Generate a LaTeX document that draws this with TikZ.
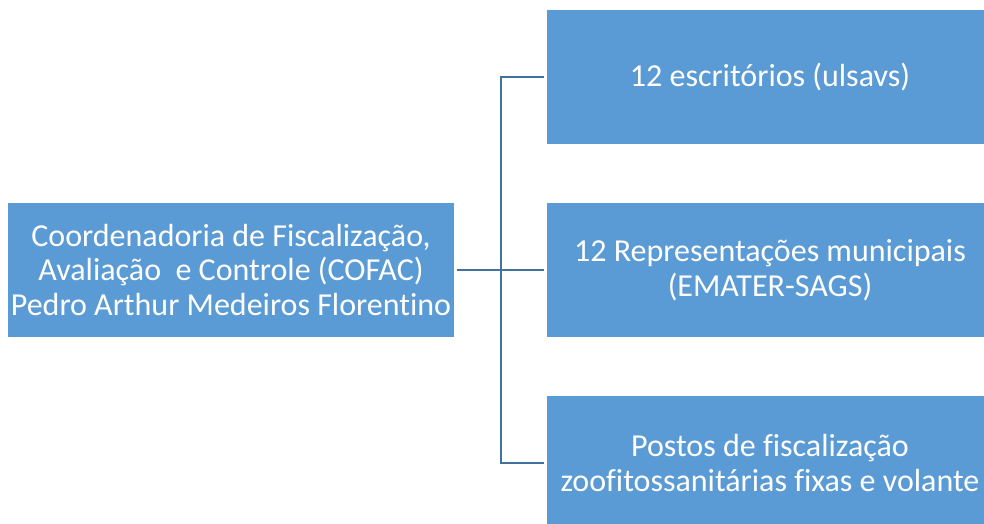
\documentclass[tikz,border=0pt]{standalone}
\usepackage{fontspec}
\setmainfont{Carlito}[Ligatures={NoCommon}]
\definecolor{boxfill}{HTML}{5B9BD5}
\definecolor{linecol}{HTML}{41719C}
\begin{document}
\begin{tikzpicture}[x=1pt,y=-1pt,
  orgbox/.style={rectangle, fill=boxfill, draw=none, minimum width=446pt, minimum height=134pt,
    inner sep=0pt, align=center, text=white, font=\fontsize{32}{34.5}\selectfont},
  conn/.style={draw=linecol, line width=2.6pt}]
\useasboundingbox (0,0) rectangle (984,524);
\clip (0,0) rectangle (984,524);
\node[orgbox] (L) at (231,270) {Coordenadoria de Fiscalização,\\Avaliação\ \ e Controle (COFAC)\\Pedro Arthur Medeiros Florentino};
\node[orgbox] (A) at (770,77) {12 escritórios (ulsavs)};
\node[orgbox] (B) at (770,270) {12 Representações municipais\\(EMATER-SAGS)};
\node[orgbox] (C) at (770,463) {Postos de fiscalização\\zoofitossanitárias fixas e volante};
\coordinate (j) at (501,270);
\draw[conn, shorten <=3pt] (L.east) -- (j);
\draw[conn, shorten >=3pt] (j) -- (B.west);
\draw[conn, shorten >=3pt] (j) |- (A.west);
\draw[conn, shorten >=3pt] (j) |- (C.west);
\end{tikzpicture}
\end{document}
